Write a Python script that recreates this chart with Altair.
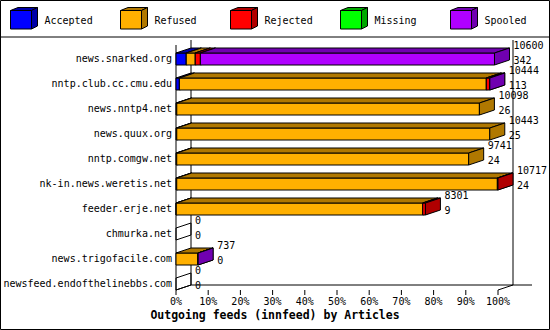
import altair as alt
import pandas as pd

# ---------------- data ----------------
hosts = ["news.snarked.org", "nntp.club.cc.cmu.edu", "news.nntp4.net", "news.quux.org",
         "nntp.comgw.net", "nk-in.news.weretis.net", "feeder.erje.net", "chmurka.net",
         "news.trigofacile.com", "newsfeed.endofthelinebbs.com"]
offered = [10600, 10444, 10098, 10443, 9741, 10717, 8301, 0, 737, 0]
accepted = [342, 113, 26, 25, 24, 24, 9, 0, 0, 0]
refused = [300, 10216, 10072, 10418, 9717, 10673, 8202, 0, 730, 0]
rejected = [170, 110, 0, 0, 0, 20, 90, 0, 0, 0]
missing = [0, 0, 0, 0, 0, 0, 0, 0, 0, 0]
spooled = [9788, 5, 0, 0, 0, 0, 0, 0, 7, 0]
categories = ["Accepted", "Refused", "Rejected", "Missing", "Spooled"]
front_colors = ["#0000FF", "#FFB000", "#FF0000", "#00FF00", "#B000FF"]
dark_colors = ["#0000A8", "#B07800", "#B00000", "#00A800", "#7000B0"]
x_ticks = [0, 10, 20, 30, 40, 50, 60, 70, 80, 90, 100]
title = "Outgoing feeds (innfeed) by Articles"

# ---------------- layout / style ----------------
W, H = 550, 330
X_RANGE = [176, 498]
Y_RANGE = [290, 40]
N = len(hosts)
PX_PER_PCT = (X_RANGE[1] - X_RANGE[0]) / 100.0
PX_PER_ROW = (Y_RANGE[0] - Y_RANGE[1]) / 10.0
DX = 15 / PX_PER_PCT          # depth, x (in % units)
DY = 5 / PX_PER_ROW           # depth, y (in row units)
FACE = 12 / PX_PER_ROW        # front face height
TICK = 5 / PX_PER_ROW
FLOOR_EXT = 19 / PX_PER_PCT
MONO = "DejaVu Sans Mono"

series = dict(zip(categories, [accepted, refused, rejected, missing, spooled]))
front_map = dict(zip(categories, front_colors))
dark_map = dict(zip(categories, dark_colors))
vmax = max(offered)

fronts, tops, sides, zsides, labels = [], [], [], [], []
for i, h in enumerate(hosts):
    bot = (N - 1) - i
    top = bot + FACE
    start = 0.0
    if offered[i] == 0:
        key = f"{i}-zero"
        zsides += [dict(key=key, x=0.0, y=bot, y2=top),
                   dict(key=key, x=DX, y=bot + DY, y2=top + DY)]
    else:
        for c in categories:
            v = series[c][i]
            if v == 0:
                continue
            a = start
            b = start + v / vmax * 100.0
            start = b
            key = f"{i}-{c}"
            fronts.append(dict(cat=c, key=key, a=a, b=b, bot=bot, top=top, fill=front_map[c]))
            tops += [dict(cat=c, key=key, y=top, x=a, x2=b, fill=dark_map[c]),
                     dict(cat=c, key=key, y=top + DY, x=a + DX, x2=b + DX, fill=dark_map[c])]
            sides += [dict(cat=c, key=key, x=b, y=bot, y2=top, fill=dark_map[c]),
                      dict(cat=c, key=key, x=b + DX, y=bot + DY, y2=top + DY, fill=dark_map[c])]
    tot = offered[i] / vmax * 100.0
    labels.append(dict(host=h, x0=0.0, yc=bot + FACE / 2, xl=tot + DX,
                       y1=bot + 0.78, y2=bot + 0.18, t1=str(offered[i]), t2=str(accepted[i])))

front_df = pd.DataFrame(fronts)
top_df = pd.DataFrame(tops)
side_df = pd.DataFrame(sides)
zside_df = pd.DataFrame(zsides)
lab_df = pd.DataFrame(labels)
tick_df = pd.DataFrame(dict(t=x_ticks, y=[0.0] * len(x_ticks), y2=[-TICK] * len(x_ticks),
                            lab=[f"{t}%" for t in x_ticks]))

frame_df = pd.DataFrame([
    dict(x=0, x2=0, y=0, y2=10 - DY),
    dict(x=DX, x2=DX, y=DY, y2=10),
    dict(x=100 + DX, x2=100 + DX, y=DY, y2=10),
    dict(x=DX, x2=100 + DX + FLOOR_EXT, y=DY, y2=DY),
    dict(x=0, x2=DX, y=0, y2=DY),
    dict(x=100, x2=100 + DX, y=0, y2=DY),
])

xs = alt.Scale(domain=[0, 100], range=X_RANGE, zero=False, nice=False)
ys = alt.Scale(domain=[0, 10], range=Y_RANGE, zero=False, nice=False)


def X(f):
    return alt.X(f, scale=xs, axis=None)


def Y(f):
    return alt.Y(f, scale=ys, axis=None)


txt = dict(font=MONO, fontSize=10, color="black", baseline="middle")

layers = []
layers.append(alt.Chart(frame_df).mark_rule(color="black", strokeWidth=1).encode(
    x=X("x:Q"), x2="x2:Q", y=Y("y:Q"), y2="y2:Q"))
layers.append(alt.Chart(tick_df).mark_rule(color="black", strokeWidth=1).encode(
    x=X("t:Q"), y=Y("y:Q"), y2="y2:Q"))
layers.append(alt.Chart(tick_df).mark_text(align="center", dy=12, **txt).encode(
    x=X("t:Q"), y=Y("y:Q"), text="lab:N"))

for c in categories:
    fsub = front_df[front_df.cat == c]
    if len(fsub) == 0:
        continue
    tsub = top_df[top_df.cat == c]
    ssub = side_df[side_df.cat == c]
    layers.append(alt.Chart(fsub).mark_rect(stroke="black", strokeWidth=1, opacity=1).encode(
        x=X("a:Q"), x2="b:Q", y=Y("bot:Q"), y2="top:Q", color=alt.Color("fill:N", scale=None)))
    layers.append(alt.Chart(tsub).mark_area(orient="horizontal", stroke="black", strokeWidth=1, opacity=1).encode(
        y=Y("y:Q"), x=X("x:Q"), x2="x2:Q", detail="key:N", color=alt.Color("fill:N", scale=None)))
    layers.append(alt.Chart(ssub).mark_area(orient="vertical", stroke="black", strokeWidth=1, opacity=1).encode(
        x=X("x:Q"), y=Y("y:Q"), y2="y2:Q", detail="key:N", color=alt.Color("fill:N", scale=None)))

layers.append(alt.Chart(zside_df).mark_area(orient="vertical", stroke="black", strokeWidth=1,
                                            fillOpacity=0, color="white").encode(
    x=X("x:Q"), y=Y("y:Q"), y2="y2:Q", detail="key:N"))

layers.append(alt.Chart(lab_df).mark_text(align="right", dx=-4, **txt).encode(
    x=X("x0:Q"), y=Y("yc:Q"), text="host:N"))
layers.append(alt.Chart(lab_df).mark_text(align="left", dx=4, **txt).encode(
    x=X("xl:Q"), y=Y("y1:Q"), text="t1:N"))
layers.append(alt.Chart(lab_df).mark_text(align="left", dx=4, **txt).encode(
    x=X("xl:Q"), y=Y("y2:Q"), text="t2:N"))

main = alt.layer(*layers)

# ---------------- legend, title, border ----------------
leg_df = pd.DataFrame(dict(cat=categories, front=front_colors, dark=dark_colors))
lx = alt.X("cat:N", scale=alt.Scale(type="point", domain=categories, range=[24, 464], padding=0), axis=None)
FRONT_P = "M-1,-0.5741L0.5556,-0.5741L0.5556,0.7963L-1,0.7963Z"
TOP_P = "M-1,-0.5741L0.5556,-0.5741L1,-0.7963L-0.4444,-0.7963Z"
SIDE_P = "M0.5556,-0.5741L1,-0.7963L1,0.5741L0.5556,0.7963Z"
cube = dict(size=729, filled=True, stroke="black", strokeWidth=1, opacity=1, fillOpacity=1)
title_df = pd.DataFrame(dict(title=[title]))
legend = alt.layer(
    alt.Chart(title_df).mark_rect(fillOpacity=0, stroke="black", strokeWidth=1).encode(
        x=alt.value(0.5), x2=alt.value(W - 0.5), y=alt.value(0.5), y2=alt.value(H - 0.5)),
    alt.Chart(title_df).mark_rule(color="black", strokeWidth=1).encode(
        x=alt.value(0), x2=alt.value(W), y=alt.value(37)),
    alt.Chart(title_df).mark_text(font=MONO, fontSize=11.5, fontWeight="bold", color="black",
                                  baseline="middle", align="center").encode(
        x=alt.value(275), y=alt.value(316), text="title:N"),
    alt.Chart(leg_df).mark_point(shape=FRONT_P, **cube).encode(
        x=lx, y=alt.value(18.25), color=alt.Color("front:N", scale=None)),
    alt.Chart(leg_df).mark_point(shape=TOP_P, **cube).encode(
        x=lx, y=alt.value(18.25), color=alt.Color("dark:N", scale=None)),
    alt.Chart(leg_df).mark_point(shape=SIDE_P, **cube).encode(
        x=lx, y=alt.value(18.25), color=alt.Color("dark:N", scale=None)),
    alt.Chart(leg_df).mark_text(align="left", dx=20.5, **txt).encode(
        x=lx, y=alt.value(21), text="cat:N"),
)

chart = alt.layer(legend, main).resolve_scale(x="independent", y="independent").properties(
    width=W, height=H, autosize=alt.AutoSizeParams(type="none"), padding=0,
    background="white"
).configure_view(stroke=None)

chart.save("out.html", embed_options={"renderer": "svg", "actions": False})
